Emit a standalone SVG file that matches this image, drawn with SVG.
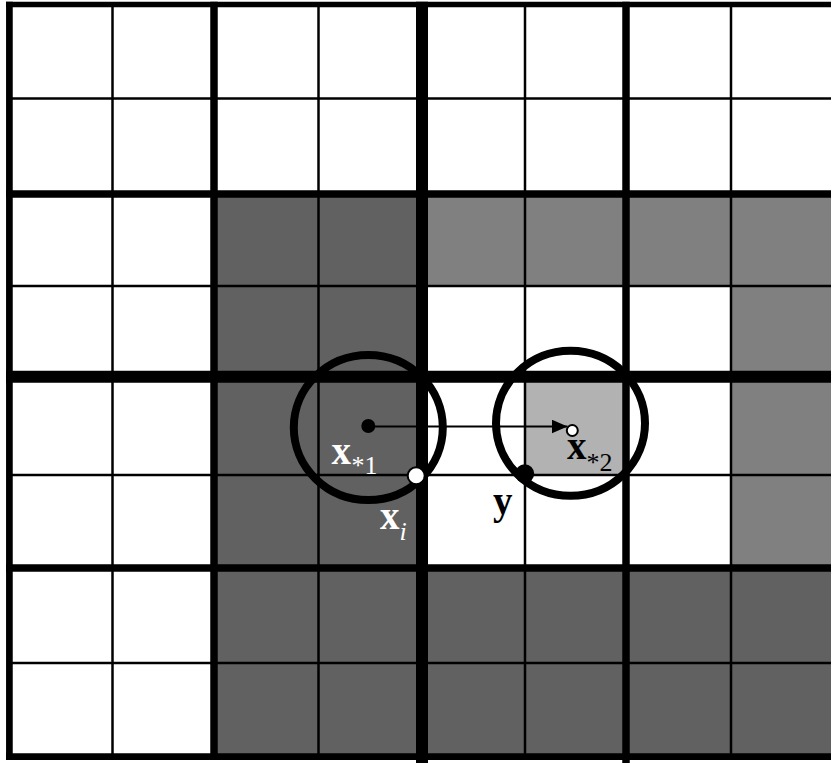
<svg xmlns="http://www.w3.org/2000/svg" width="832" height="763" viewBox="0 0 832 763">
<style>
.dk{fill:#616161}
.md{fill:#808080}
.lt{fill:#b2b2b2}
.thin{stroke:#000;stroke-width:2.5}
.thick{stroke:#000;stroke-width:7.5}
.mid{stroke:#000;stroke-width:12}
.ring{fill:none;stroke:#000;stroke-width:8}
.lbl{font-family:"Liberation Serif","Times New Roman",serif;font-size:39px;font-weight:bold}
.sub{font-size:26px;font-weight:normal}
.it{font-style:italic}
.w{fill:#fff}
.b{fill:#000}
</style>
<defs>
<marker id="ah" markerUnits="userSpaceOnUse" markerWidth="17" markerHeight="15" refX="16" refY="7" orient="auto">
<path d="M0,0 L16,7 L0,14 z" fill="#000"/>
</marker>
</defs>
<rect width="832" height="763" fill="#fff"/>
<g id="cells">
<rect class="dk" x="214" y="194" width="208" height="374"/>
<rect class="md" x="422" y="194" width="409" height="92"/>
<rect class="md" x="731" y="286" width="100" height="282"/>
<rect class="lt" x="525" y="377" width="101" height="98"/>
<rect class="dk" x="214" y="568" width="617" height="189"/>
</g>
<g id="grid">
<line class="thin" x1="112.5" y1="4" x2="112.5" y2="757"/>
<line class="thin" x1="318.5" y1="4" x2="318.5" y2="757"/>
<line class="thin" x1="525" y1="4" x2="525" y2="757"/>
<line class="thin" x1="731" y1="4" x2="731" y2="757"/>
<line class="thin" x1="9" y1="98.5" x2="831" y2="98.5"/>
<line class="thin" x1="9" y1="286" x2="831" y2="286"/>
<line class="thin" x1="9" y1="475" x2="831" y2="475"/>
<line class="thin" x1="9" y1="663" x2="831" y2="663"/>
<line stroke="#000" stroke-width="6.7" x1="9.4" y1="1.7" x2="9.4" y2="760"/>
<line stroke="#000" stroke-width="5.6" x1="6" y1="4.5" x2="831" y2="4.5"/>
<line stroke="#000" stroke-width="6.7" x1="6" y1="756.7" x2="831" y2="756.7"/>
<line class="thick" x1="214" y1="1.7" x2="214" y2="760"/>
<line class="thick" x1="626" y1="1.7" x2="626" y2="763"/>
<line class="mid" x1="422" y1="1.7" x2="422" y2="763"/>
<line class="thick" x1="6" y1="194" x2="831" y2="194"/>
<line class="thick" x1="6" y1="568" x2="831" y2="568"/>
<line class="mid" x1="6" y1="376.7" x2="831" y2="376.7"/>
</g>
<g id="circle1"><ellipse class="ring" cx="368.3" cy="427.5" rx="74.5" ry="72.5"/></g>
<g id="circle2"><ellipse class="ring" cx="570.5" cy="423.3" rx="74.5" ry="72.5"/></g>
<g id="connectors">
<line x1="368" y1="426.5" x2="567.5" y2="426.5" stroke="#000" stroke-width="1.8" marker-end="url(#ah)"/>
</g>
<g id="x1">
<circle cx="368.3" cy="426" r="7" fill="#000"/>
<text class="lbl w" x="331.5" y="463.5">x<tspan class="sub" dy="10" dx="0.5">*1</tspan></text>
</g>
<g id="x2">
<circle cx="572.3" cy="430.5" r="5.5" fill="#fff" stroke="#000" stroke-width="2"/>
<text class="lbl b" x="567" y="459">x<tspan class="sub" dy="11.5">*2</tspan></text>
</g>
<g id="xi">
<circle cx="416.2" cy="475.8" r="8.5" fill="#fff" stroke="#000" stroke-width="2"/>
<text class="lbl w" x="380" y="529.3">x<tspan class="sub it" dy="10.7">i</tspan></text>
</g>
<g id="y">
<circle cx="524.7" cy="473.8" r="9.5" fill="#000"/>
<text class="lbl b" x="493" y="513.5">y</text>
</g>
</svg>
